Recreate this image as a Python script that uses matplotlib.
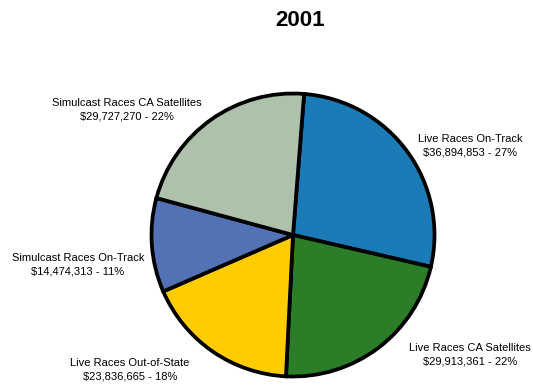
import matplotlib
matplotlib.use("Agg")
import matplotlib.pyplot as plt

plt.rcParams['font.family'] = ['Liberation Sans', 'DejaVu Sans']

# 2001 handle by race category
categories = ["Live Races On-Track", "Live Races CA Satellites", "Live Races Out-of-State",
              "Simulcast Races On-Track", "Simulcast Races CA Satellites"]
amounts = [36894853, 29913361, 23836665, 14474313, 29727270]
percent_labels = ["27%", "22%", "18%", "11%", "22%"]
colors = ["#1a7bb6", "#2b7e27", "#ffcc00", "#5272b5", "#aec1ab"]

# label anchor points in pixels (x, y from top)
label_pos = [(470, 146), (470, 355), (130, 370), (78, 265), (127, 110)]

W, H = 533, 385
fig = plt.figure(figsize=(W / 100, H / 100), dpi=100)

cx, cy, r = 293, 235, 141.5
ax = fig.add_axes([(cx - r) / W, (H - cy - r) / H, 2 * r / W, 2 * r / H])
ax.pie(amounts, colors=colors, startangle=85.5, counterclock=False, radius=1,
       wedgeprops=dict(edgecolor="black", linewidth=2.7))
ax.set_xlim(-1, 1)
ax.set_ylim(-1, 1)
ax.set_aspect("equal")
ax.axis("off")

for name, amt, pct, (px, py) in zip(categories, amounts, percent_labels, label_pos):
    fig.text(px / W, 1 - py / H, "%s\n$%s - %s" % (name, format(amt, ","), pct),
             ha="center", va="center", fontsize=8, linespacing=1.4)

fig.text(300 / W, 1 - 21 / H, "2001", ha="center", va="center",
         fontsize=16, fontweight="bold")

fig.savefig("out.png", dpi=100)
